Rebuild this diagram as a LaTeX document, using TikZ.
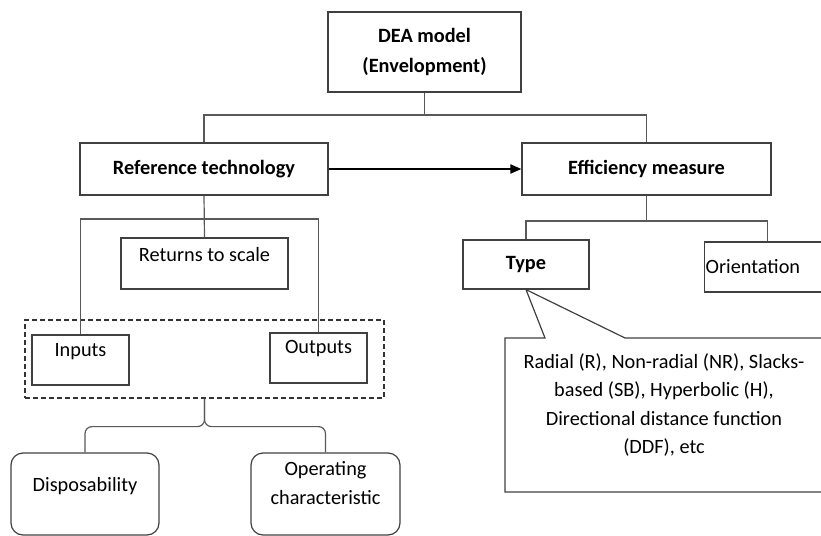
\documentclass[tikz,border=0pt]{standalone}
\usepackage{fontspec}
\setmainfont{Carlito}
\usetikzlibrary{arrows.meta,shapes.callouts}
\tikzset{
  box/.style={draw=black!75, line width=1.2pt, font=\fontsize{20.3}{28.5}\selectfont, align=center, inner sep=0pt},
  hbox/.style={box, font=\fontsize{20.3}{30}\selectfont\bfseries},
  groupbox/.style={draw=black!80, line width=1.2pt, dashed, dash pattern=on 5pt off 3pt, inner sep=0pt},
  link/.style={draw=black!65, line width=1.2pt}
}
\begin{document}
\begin{tikzpicture}[x=1pt,y=-1pt]
\useasboundingbox (0,0) rectangle (821,535);
\clip (0,0) rectangle (821,535);
\node[hbox, minimum width=193, minimum height=80] (dea) at (424.5,52) {DEA model\\(Envelopment)};
\node[hbox, minimum width=248, minimum height=52] (reftech) at (204,169) {Reference technology};
\node[hbox, minimum width=249, minimum height=52] (effm) at (646.5,169) {Efficiency measure};
\node[box, minimum width=167, minimum height=51, text depth=18pt] (rts) at (204.5,263.5) {Returns to scale};
\node[groupbox, minimum width=359, minimum height=78] (grp) at (204.5,359) {};
\node[box, minimum width=97, minimum height=50, text depth=20pt] (inputs) at (80.5,360) {Inputs};
\node[box, minimum width=97, minimum height=50, text depth=22pt] (outputs) at (318.5,358) {Outputs};
\node[box, rounded corners=12pt, minimum width=148, minimum height=82, text depth=20pt] (disp) at (85,494) {Disposability};
\node[box, rounded corners=12pt, minimum width=149, minimum height=82, text depth=22pt] (opchar) at (325.5,494) {Operating\\characteristic};
\node[hbox, minimum width=126, minimum height=49] (type) at (526,264.5) {Type};
\node[box, anchor=west, text width=124, align=left, inner xsep=1pt, minimum height=50] (orient) at (704,267) {Orientation};
\node[rectangle callout, draw=black!75, line width=1.2pt, minimum width=325, minimum height=154,
  callout absolute pointer={(type.south)}, callout pointer width=80pt] (typenote) at (667.5,415) {};
\node[font=\fontsize{20.3}{28.5}\selectfont, align=center] (typetext) at (664,405)
  {Radial (R), Non-radial (NR), Slacks-\\based (SB), Hyperbolic (H),\\Directional distance function\\(DDF), etc};
\coordinate (deabar) at (424.5,115);
\coordinate (rtbar) at (204,219);
\coordinate (embar) at (646.5,221);
\draw[link] (dea.south) -- (deabar);
\draw[link] (reftech.north) |- (deabar) -| (effm.north);
\draw[link] (reftech.south) -- (rts.north);
\draw[link] (inputs.north) |- (rtbar) -| (outputs.north);
\draw[link] (effm.south) -- (embar);
\draw[link] (type.north) |- (embar) -| (orient.north);
\draw[link, rounded corners=7pt] (grp.south) -- ++(0,28) -| (disp.north);
\draw[link, rounded corners=7pt] (grp.south) -- ++(0,28) -| (opchar.north);
\draw[black, line width=1.8pt, -{Triangle[length=11pt,width=9pt]}] (reftech.east) -- (effm.west);
\end{tikzpicture}
\end{document}
